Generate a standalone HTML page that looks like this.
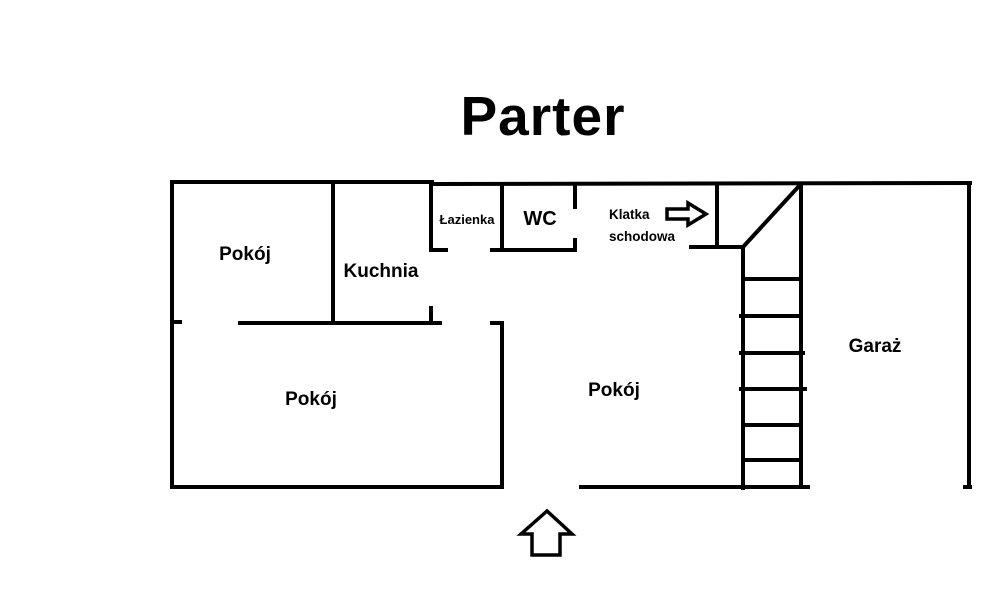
<!DOCTYPE html>
<html><head><meta charset="utf-8"><style>
body{margin:0;background:#fff}
svg text{font-family:"Liberation Sans",sans-serif;font-weight:bold;fill:#000}
</style></head><body>
<svg width="1000" height="600" viewBox="0 0 1000 600">
<g stroke="#000" stroke-width="4" fill="none" stroke-linecap="square">
<line x1="172" y1="182" x2="432" y2="182"/>
<line x1="432" y1="184" x2="970" y2="183"/>
<line x1="172" y1="182" x2="172" y2="487"/>
<line x1="172" y1="322" x2="180" y2="322"/>
<line x1="240" y1="323" x2="440" y2="323"/>
<line x1="333" y1="182" x2="333" y2="323"/>
<line x1="431" y1="182" x2="431" y2="250"/>
<line x1="431" y1="308" x2="431" y2="323"/>
<line x1="431" y1="250" x2="446" y2="250"/>
<line x1="492" y1="250" x2="575" y2="250"/>
<line x1="502" y1="185" x2="502" y2="250"/>
<line x1="575" y1="185" x2="575" y2="207"/>
<line x1="575" y1="240" x2="575" y2="250"/>
<line x1="492" y1="323" x2="502" y2="323"/>
<line x1="502" y1="323" x2="502" y2="487"/>
<line x1="172" y1="487" x2="502" y2="487"/>
<line x1="581" y1="487" x2="808" y2="487"/>
<line x1="717" y1="185" x2="717" y2="246"/>
<line x1="691" y1="247" x2="743" y2="247"/>
<line x1="743" y1="247" x2="800" y2="185"/>
<line x1="743" y1="247" x2="743" y2="488"/>
<line x1="801" y1="185" x2="801" y2="487"/>
<line x1="743" y1="279" x2="801" y2="279"/>
<line x1="741" y1="316" x2="801" y2="316"/>
<line x1="741" y1="353" x2="803" y2="353"/>
<line x1="741" y1="389" x2="805" y2="389"/>
<line x1="743" y1="425" x2="801" y2="425"/>
<line x1="743" y1="460" x2="801" y2="460"/>
<line x1="969" y1="183" x2="969" y2="487"/>
<line x1="965" y1="487" x2="970" y2="487"/>
</g>
<polygon points="547,511 521,534 532,534 532,555 560,555 560,534 572,534" fill="none" stroke="#000" stroke-width="3.5" stroke-linejoin="miter"/>
<polygon points="667,209 688,209 688,203 706,214 688,225 688,219 667,219" fill="none" stroke="#000" stroke-width="3.5"/>
<text x="543" y="135" font-size="55" text-anchor="middle" letter-spacing="1">Parter</text>
<text x="245" y="260" font-size="19" text-anchor="middle">Pokój</text>
<text x="381" y="277" font-size="19" text-anchor="middle">Kuchnia</text>
<text x="467" y="224" font-size="13" text-anchor="middle">Łazienka</text>
<text x="540" y="225" font-size="20" text-anchor="middle">WC</text>
<text x="609" y="219" font-size="13.5">Klatka</text>
<text x="609" y="241" font-size="13.5">schodowa</text>
<text x="311" y="405" font-size="19" text-anchor="middle">Pokój</text>
<text x="614" y="396" font-size="19" text-anchor="middle">Pokój</text>
<text x="875" y="352" font-size="19" text-anchor="middle">Garaż</text>
</svg>
</body></html>
